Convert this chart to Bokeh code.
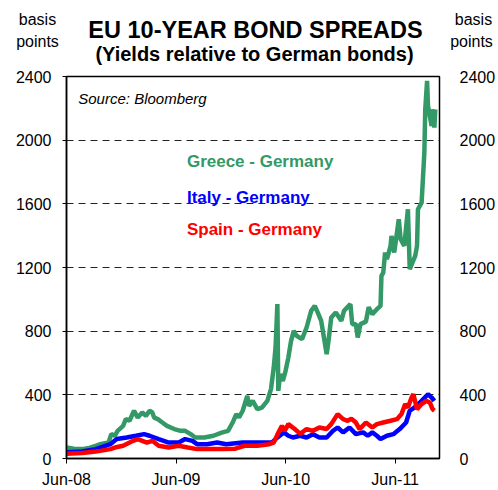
from bokeh.plotting import figure
from bokeh.models import Range1d, FixedTicker, LinearAxis, Label
from bokeh.layouts import column
from bokeh.core.properties import value
from bokeh.embed import file_html
from bokeh.resources import INLINE

# ---- data (x = months since June 2008, y = basis points) ----
greece_m = [0.0, 0.8, 1.7, 2.5, 3.2, 3.7, 4.6, 4.9, 5.3, 5.6, 6.2, 6.5, 6.9, 7.4, 7.8, 8.3,
            8.7, 9.1, 9.4, 9.6, 10.0, 10.5, 11.0, 11.8, 12.5, 13.0, 13.6, 14.1, 15.1, 16.1,
            17.0, 17.7, 18.2, 18.6, 18.9, 19.3, 19.8, 20.0, 20.4, 20.9, 21.4, 22.0, 22.4,
            22.7, 22.9, 23.1, 23.2, 23.4, 23.7, 24.0, 24.3, 24.6, 24.9, 25.2, 25.8, 26.3,
            26.8, 27.2, 27.6, 27.9, 28.5, 28.7, 29.0, 29.5, 30.1, 30.4, 31.1, 31.3, 31.7,
            31.9, 32.2, 32.8, 33.1, 33.5, 34.0, 34.4, 34.5, 34.7, 34.9, 35.1, 35.5, 35.6,
            35.9, 36.4, 36.6, 37.0, 37.4, 37.6, 38.2, 38.4, 38.5, 38.9, 39.1, 39.2, 39.3,
            39.5, 39.6, 40.0, 40.1, 40.3, 40.4]
greece_bp = [69, 62, 59, 66, 80, 90, 100, 153, 143, 174, 205, 247, 237, 300, 257, 289,
             268, 300, 289, 257, 247, 226, 205, 185, 174, 174, 153, 132, 132, 143,
             163, 174, 226, 279, 258, 300, 394, 331, 362, 310, 320, 362, 436,
             571, 697, 970, 425, 530, 488, 551, 634, 739, 802, 771, 750, 823,
             928, 959, 907, 865, 656, 739, 886, 917, 865, 928, 970, 844, 844,
             760, 844, 860, 950, 907, 938, 959, 1147, 1168, 1294, 1252, 1336, 1398,
             1294, 1503, 1378, 1336, 1566, 1189, 1273, 1336, 1566, 1608, 1817, 1922, 2194,
             2372, 2215, 2089, 2194, 2079, 2194]

italy_m = [0.0, 1.7, 3.2, 3.7, 4.8, 5.5, 6.6, 7.6, 8.5, 9.1, 10.1, 11.2, 12.3, 13.0, 13.8,
           14.3, 15.4, 16.5, 17.5, 19.3, 21.1, 22.5, 22.9, 23.8, 24.3, 24.8, 25.6, 26.3,
           27.0, 27.7, 28.5, 29.2, 29.7, 30.3, 31.0, 31.7, 32.5, 33.0, 33.5, 34.0, 34.4,
           35.1, 35.8, 36.5, 37.2, 37.6, 38.1, 38.9, 39.6, 40.0, 40.3]
italy_bp = [40, 44, 59, 69, 90, 122, 132, 143, 153, 143, 122, 100, 100, 122, 111,
            90, 90, 100, 90, 100, 100, 100, 122, 164, 143, 132, 143, 132,
            153, 132, 132, 174, 195, 164, 195, 153, 164, 143, 164, 143, 122,
            143, 153, 185, 226, 300, 320, 362, 404, 383, 362]

spain_m = [0.0, 1.7, 3.2, 3.7, 4.8, 5.3, 6.2, 7.3, 7.8, 8.3, 8.8, 9.4, 10.1, 11.2, 12.3,
           13.3, 14.3, 15.5, 17.0, 18.5, 19.5, 20.9, 22.2, 22.7, 23.1, 23.6, 23.9, 24.3,
           25.0, 25.6, 26.3, 27.0, 27.7, 28.5, 29.0, 29.7, 30.3, 30.8, 31.2, 31.7, 32.1,
           32.8, 33.5, 34.0, 34.7, 35.5, 36.2, 36.7, 37.1, 37.4, 37.8, 38.0, 38.4, 38.9,
           39.4, 39.8, 40.1, 40.3]
spain_bp = [30, 34, 44, 48, 59, 69, 80, 111, 122, 111, 100, 111, 80, 69, 80,
            69, 59, 59, 59, 62, 80, 80, 90, 100, 150, 205, 174, 216,
            185, 155, 185, 174, 195, 185, 216, 279, 247, 237, 250, 226, 185,
            226, 195, 216, 226, 237, 247, 279, 342, 320, 383, 404, 310, 342,
            362, 352, 310, 300]

x_ticks = [0, 12, 24, 36]
x_tick_labels = ["Jun-08", "Jun-09", "Jun-10", "Jun-11"]
y_ticks = [0, 400, 800, 1200, 1600, 2000, 2400]

title_text = "EU 10-YEAR BOND SPREADS"
subtitle_text = "(Yields relative to German bonds)"
unit_lines = ["basis", "points"]
series_names = ["Greece - Germany", "Italy - Germany", "Spain - Germany"]
source_text = "Source: Bloomberg"

GREEN = "#339966"
BLUE = "#0000FF"
RED = "#FF0000"
FONT = "Liberation Sans"

W = 498
HEAD_H = 68

# ---- header (titles and unit labels) ----
head = figure(width=W, height=HEAD_H, output_backend="svg", toolbar_location=None,
              x_range=Range1d(0, W), y_range=Range1d(HEAD_H, 0),
              min_border_left=0, min_border_right=0, min_border_top=0, min_border_bottom=0)
head.frame_align = False
head.axis.visible = False
head.grid.visible = False
head.outline_line_color = None
head.background_fill_color = "white"
head.border_fill_color = "white"

head.text(x=[255], y=[29], text=[title_text], text_font=value(FONT), text_font_size="23.5px",
          text_font_style="bold", text_align="center", text_baseline="middle", text_color="black")
head.text(x=[254], y=[53], text=[subtitle_text], text_font=value(FONT), text_font_size="20px",
          text_font_style="bold", text_align="center", text_baseline="middle", text_color="black")
head.text(x=[37, 37, 473, 471], y=[19, 41, 19, 41], text=unit_lines + unit_lines,
          text_font=value(FONT), text_font_size="16px", text_align="center",
          text_baseline="middle", text_color="black")

# ---- main chart ----
p = figure(width=W, height=490 - HEAD_H, output_backend="svg", toolbar_location=None,
           x_range=Range1d(0, 40.86), y_range=Range1d(0, 2400),
           min_border_left=66, min_border_right=53, min_border_top=8, min_border_bottom=32)
p.frame_align = False
p.background_fill_color = "white"
p.border_fill_color = "white"
p.outline_line_color = "black"
p.outline_line_width = 1.5

p.line(greece_m, greece_bp, line_color=GREEN, line_width=4.5)
p.line(italy_m, italy_bp, line_color=BLUE, line_width=4.5)
p.line(spain_m, spain_bp, line_color=RED, line_width=4.5)

# grid
p.xgrid.visible = False
p.ygrid.ticker = FixedTicker(ticks=y_ticks)
p.ygrid.grid_line_color = "#222222"
p.ygrid.grid_line_dash = "7 5"
p.ygrid.grid_line_width = 1

# x axis
xa = p.xaxis[0]
xa.ticker = FixedTicker(ticks=x_ticks)
xa.major_label_overrides = {t: l for t, l in zip(x_ticks, x_tick_labels)}
xa.major_tick_out = 5
xa.major_tick_in = 0
xa.minor_tick_line_color = None
xa.axis_line_color = "black"
xa.axis_line_width = 1.5
xa.major_tick_line_color = "black"
xa.major_label_standoff = 7
xa.major_label_text_font = FONT
xa.major_label_text_font_size = "16px"
xa.major_label_text_color = "black"

# left y axis
ya = p.yaxis[0]
ya.ticker = FixedTicker(ticks=y_ticks)
ya.major_tick_out = 4
ya.major_tick_in = 0
ya.minor_tick_line_color = None
ya.axis_line_color = "black"
ya.axis_line_width = 1.5
ya.major_label_standoff = 11
ya.major_label_text_font = FONT
ya.major_label_text_font_size = "16px"
ya.major_label_text_color = "black"

# right y axis
ra = LinearAxis(ticker=FixedTicker(ticks=y_ticks))
ra.major_tick_line_color = None
ra.minor_tick_line_color = None
ra.axis_line_color = None
ra.major_label_standoff = 14
ra.major_label_text_font = FONT
ra.major_label_text_font_size = "16px"
ra.major_label_text_color = "black"
p.add_layout(ra, "right")

def add_text(x, y, text, size, color="black", style="normal"):
    p.add_layout(Label(x=x, y=y, text=text, text_font=FONT, text_font_size=size,
                       text_font_style=style, text_color=color, text_align="left",
                       text_baseline="middle"))

add_text(1.29, 2259, source_text, "15px", style="italic")
add_text(13.19, 1869, series_names[0], "17px", color=GREEN, style="bold")
add_text(13.19, 1637, series_names[1], "17px", color=BLUE, style="bold")
add_text(13.19, 1436, series_names[2], "17px", color=RED, style="bold")

layout = column(head, p, spacing=0)
open("out.html", "w").write(file_html(layout, INLINE))
